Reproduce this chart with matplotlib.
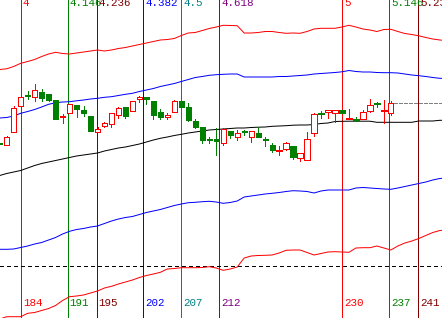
import numpy as np
import matplotlib
matplotlib.use("Agg")
import matplotlib.pyplot as plt
from matplotlib.patches import Rectangle

H = 318  # values below are read as screen rows, turned into price-like units by H - row

def p(a):
    return H - np.array(a, dtype=float)

# candles, bars 181..237
bars = np.arange(181, 238)
o = p([143, 145.3, 131.5, 106.3, 94.5, 97.3, 92, 94, 100, 117, 112.5, 105.3, 109.7, 115.7, 132.2, 125.5,
       123.5, 115.3, 107.2, 111.3, 99, 97.3, 100.7, 112, 116.7, 112.2, 100.7, 107.2, 121, 127, 138.5, 138.5,
       142.5, 130.7, 136.5, 131.3, 136.7, 133.2, 139, 145, 151, 148.7, 146, 158.3, 160.3, 133.3, 112.7, 111.7,
       113.3, 109.7, 118.8, 118.5, 119.3, 110.7, 103.2, 110.7, 113.3])
c = p([144, 137.3, 108.3, 97.3, 95.5, 90.2, 97.5, 99.5, 118.7, 116, 104, 109.3, 112.7, 130.5, 129, 122.8,
       113.2, 108.2, 115.6, 101, 97, 98.7, 114.5, 116.7, 115.2, 101.2, 107.3, 119.8, 126.5, 139.8, 139.5, 141.2,
       129, 135.3, 133.2, 132.3, 130.5, 136.8, 140, 150.3, 149.5, 143.3, 157, 153.3, 139, 114, 114.3, 110.3,
       110.3, 113.3, 118, 119.5, 112, 105.3, 104.2, 110, 103.3])
hi = p([143, 136, 105.5, 94.5, 90.7, 84, 88.8, 94, 100, 114, 104, 105.3, 106.3, 115.7, 127, 121.7,
        113.2, 106.5, 107.2, 101, 95.5, 97.3, 100.7, 109.3, 113.3, 99.8, 100.7, 103.2, 119.3, 127, 136.7, 127.8,
        128, 130.7, 129.8, 129.5, 130.5, 126.8, 137, 143.3, 146.3, 142, 146, 153.3, 132, 112.7, 110.7, 110.3,
        110.3, 109.7, 108.5, 116.7, 110, 99, 102, 100, 100.7])
lo = p([144, 145.3, 131.5, 106.5, 99, 101, 100.7, 101.3, 118.7, 123.3, 112.5, 117.3, 115.7, 130.5, 132.2, 127,
        127.3, 118, 117.7, 111.3, 101.5, 104, 118.5, 119, 118.7, 112.2, 107.3, 121.3, 128, 143.3, 143.3, 155.3,
        144.7, 138, 140.2, 135.3, 142.2, 136.8, 145.7, 151.7, 155.3, 150, 158.7, 161.3, 160.3, 135.7, 117.7, 117.7,
        122, 113.3, 118.8, 121.3, 119.3, 111.7, 106.7, 123.3, 114.7])

# band lines, bars 181..245
lbars = np.arange(181, 246)
red_top = p([69.5, 68.8, 66.5, 63.3, 61.5, 59.5, 56.5, 54, 52.3, 53.5, 54, 53, 52, 51, 50, 51, 50, 48.5, 47.5,
             46, 44.5, 43, 41.5, 40, 39.5, 38.5, 35.5, 33, 32.5, 30.5, 28.5, 27, 25.3, 25.5, 25.7, 33, 33, 32.5,
             31.5, 31.5, 32.5, 33.3, 33, 33.3, 31.5, 29, 28.3, 28.3, 28.3, 27, 25.3, 27, 29, 30, 31.5, 29.5, 29.3,
             31.5, 33.5, 34.5, 35.8, 37.5, 39, 40, 40.5])
blue_top = p([118, 117.5, 116, 113.3, 111.5, 109.5, 107, 104.3, 102.7, 102, 101.7, 100.8, 100, 99, 98.3, 97.3,
              96.7, 95.5, 94.3, 93.3, 91.5, 90, 88.5, 86.5, 85, 83.5, 81.5, 79.5, 77.5, 76.5, 75.3, 74.7, 74.3, 74,
              74, 77, 77, 77, 77, 77, 76.5, 76.5, 76, 75.5, 75, 74, 73.5, 73, 72.5, 71.8, 70.5, 71.5, 72, 72, 72.5,
              72.7, 72.7, 73, 74, 75, 75.7, 76.5, 77.5, 78.3, 78.5])
mid = p([175.5, 173.5, 172, 170.5, 168, 165.5, 163.5, 162, 160.5, 159, 157.5, 156, 155, 154, 153, 151, 149.5,
         148, 147, 145.5, 144, 142, 140, 138.3, 137, 135.5, 134.3, 133, 132, 131, 130, 129.5, 129, 128.5, 128, 128,
         127.5, 127.2, 127, 126.3, 126, 125.7, 125.2, 125, 125, 124.5, 123.5, 123, 121.5, 121.3, 121.2, 121.2,
         121.2, 121.2, 122.3, 122.3, 122.3, 122.3, 122.3, 122.3, 121, 121, 121, 120.3, 120.3])
blue_low = p([249.3, 249.3, 249, 247.5, 246, 244, 242.5, 240, 237.5, 234, 231.3, 229.5, 228.5, 227, 226, 223.5,
              221, 219, 217.5, 216.5, 214.5, 212.5, 211, 209.5, 207.5, 205.5, 204, 202.7, 202.3, 201.7, 201.3, 202,
              203.3, 202.5, 201, 197, 196, 195, 194, 193.3, 192.5, 191.5, 190.7, 191, 191.5, 193, 191, 190, 190,
              190, 190, 188, 187.5, 188, 188.5, 189, 189.3, 188, 186.5, 185, 183.5, 182, 180, 178.5, 178])
red_low = p([319, 316.7, 316.7, 316.7, 313.3, 312.5, 310.5, 308.5, 305.5, 300.5, 296.7, 296, 295, 293, 291, 288,
             286.3, 284, 282, 280, 277.5, 275.5, 274, 272.3, 269, 268.5, 267.7, 267.7, 267.7, 267.5, 266.7, 268,
             270.3, 269, 267, 258, 256, 255.5, 255.3, 255, 253, 250.3, 250, 250, 252.5, 255, 253.5, 252, 251.7,
             252, 252.3, 248, 247.7, 247.7, 246, 248, 250, 246, 243, 241, 238.5, 235.5, 232.5, 230.5, 230])

base_level = p([266.3])[0]

# fibonacci time lines
unit = 46
ratios = [4, 4.146, 4.236, 4.382, 4.5, 4.618, 5, 5.146, 5.236]
ratio_labels = ["4", "4.146", "4.236", "4.382", "4.5", "4.618", "5", "5.146", "5.236"]
fib_colors = ["#ff0000", "#008000", "#800000", "#0000ff", "#008080", "#800080", "#ff0000", "#008000", "#800000"]

fig = plt.figure(figsize=(4.42, 3.18), dpi=100)
ax = fig.add_axes([0, 0, 1, 1])
ax.set_xlim(181.04, 244.32)
ax.set_ylim(0, H)
ax.axis("off")

lw = 0.72
aa = False

for r, lab, col in zip(ratios, ratio_labels, fib_colors):
    xb = r * unit
    ax.axvline(xb, color=col, lw=lw, antialiased=aa, zorder=1)
    ax.text(xb + 0.3, H + 1.5, lab, color=col, fontsize=7.8, family="Liberation Mono",
            va="top", ha="left", zorder=5)
    ax.text(xb + 0.3, p([307.5])[0], str(int(round(r * unit))), color=col, fontsize=7.8,
            family="Liberation Mono", va="bottom", ha="left", zorder=5)

ax.axhline(base_level, color="black", lw=lw, ls=(0, (3, 3)), antialiased=aa, zorder=2)

ax.plot(lbars, red_top, color="#ff0000", lw=lw, zorder=2)
ax.plot(lbars, blue_top, color="#0000ff", lw=lw, zorder=2)
ax.plot(lbars, mid, color="black", lw=lw, zorder=2)
ax.plot(lbars, blue_low, color="#0000ff", lw=lw, zorder=2)
ax.plot(lbars, red_low, color="#ff0000", lw=lw, zorder=2)

# last close extended to the right
ax.plot([bars[-1] + 0.5, 244.32], [c[-1], c[-1]], color="#808080", lw=lw, ls=(0, (4, 2)),
        antialiased=aa, zorder=2)

w = 0.75
for x, op, cl, h, l in zip(bars, o, c, hi, lo):
    up = cl >= op
    col = "#ff0000" if up else "#008000"
    ax.plot([x, x], [l, h], color=col, lw=lw, antialiased=aa, zorder=3)
    bottom = min(op, cl)
    height = abs(cl - op)
    ax.add_patch(Rectangle((x - w / 2, bottom), w, height, facecolor="white" if up else col,
                           edgecolor=col, lw=lw, antialiased=aa, zorder=4))

fig.savefig("out.png", dpi=100, facecolor="white")
